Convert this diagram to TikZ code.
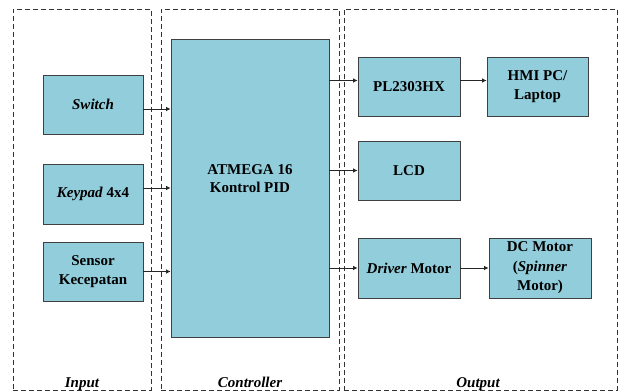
\documentclass[tikz,border=0pt]{standalone}
\usepackage{fontspec}
\setmainfont{Liberation Serif}
\usepackage{tikz}
\usetikzlibrary{arrows.meta,positioning,calc}
\usepackage{xcolor}
\definecolor{bdfill}{RGB}{146,205,220}
\tikzset{
  bdpanel/.style={draw=black!80, dash pattern=on 5pt off 3pt, line width=0.7pt, inner sep=0pt},
  bdbox/.style={draw=black!75, fill=bdfill, line width=0.8pt, align=center, inner sep=2pt,
    font=\fontsize{15}{19.5}\selectfont\bfseries},
  bdarrow/.style={-{Latex[length=4.5pt,width=4.5pt]}, line width=0.7pt, black!85},
  bdlabel/.style={font=\fontsize{15}{18}\selectfont\bfseries\itshape, anchor=base},
}

\begin{document}
\begin{tikzpicture}[x=1pt,y=-1pt]
  \useasboundingbox (0,0) rectangle (618,391);

  % panels
  \node[bdpanel, minimum width=138pt, minimum height=381pt] (pin) at (82,199.5) {};
  \node[bdpanel, minimum width=178pt, minimum height=381pt] (pctl) at (250,199.5) {};
  \node[bdpanel, minimum width=273pt, minimum height=381pt] (pout) at (480.5,199.5) {};

  \node[bdlabel] (lin) at (82,387) {Input};
  \node[bdlabel] (lctl) at (250,387) {Controller};
  \node[bdlabel] (lout) at (478,387) {Output};

  % input
  \node[bdbox, minimum width=100pt, minimum height=59pt] (sw) at (93,104.5) {\itshape Switch};
  \node[bdbox, minimum width=100pt, minimum height=60pt] (kp) at (93,194) {\textit{Keypad} 4x4};
  \node[bdbox, minimum width=100pt, minimum height=59pt] (sens) at (93,271.5) {Sensor\\Kecepatan};

  % controller
  \node[bdbox, minimum width=158pt, minimum height=298pt,
    label={[font=\fontsize{15}{18}\selectfont\bfseries, align=center, yshift=9pt]center:ATMEGA 16\\Kontrol PID}]
    (mcu) at (250,188) {};

  % output
  \node[bdbox, minimum width=102pt, minimum height=59pt] (pl) at (409,86.5) {PL2303HX};
  \node[bdbox, minimum width=101pt, minimum height=59pt] (hmi) at (537.5,86.5) {HMI PC/\\Laptop};
  \node[bdbox, minimum width=102pt, minimum height=59pt] (lcd) at (409,170.5) {LCD};
  \node[bdbox, minimum width=102pt, minimum height=60pt] (drv) at (409,268) {\textit{Driver} Motor};
  \node[bdbox, minimum width=102pt, minimum height=60pt] (dc) at (540,268)
    {DC Motor\\(\textit{Spinner}\\Motor)};

  \draw[bdarrow] ([yshift=-4.5pt]sw.east) -- ([yshift=-4.5pt]sw.east -| mcu.west);
  \draw[bdarrow] ([yshift=6pt]kp.east) -- ([yshift=6pt]kp.east -| mcu.west);
  \draw[bdarrow] (sens.east) -- (sens.east -| mcu.west);

  \draw[bdarrow] ([yshift=6pt]pl.west -| mcu.east) -- ([yshift=6pt]pl.west);
  \draw[bdarrow] (lcd.west -| mcu.east) -- (lcd.west);
  \draw[bdarrow] (drv.west -| mcu.east) -- (drv.west);
  \draw[bdarrow] ([yshift=6pt]pl.east) -- ([yshift=6pt]pl.east -| hmi.west);
  \draw[bdarrow] (drv.east) -- (dc.west);
\end{tikzpicture}
\end{document}
